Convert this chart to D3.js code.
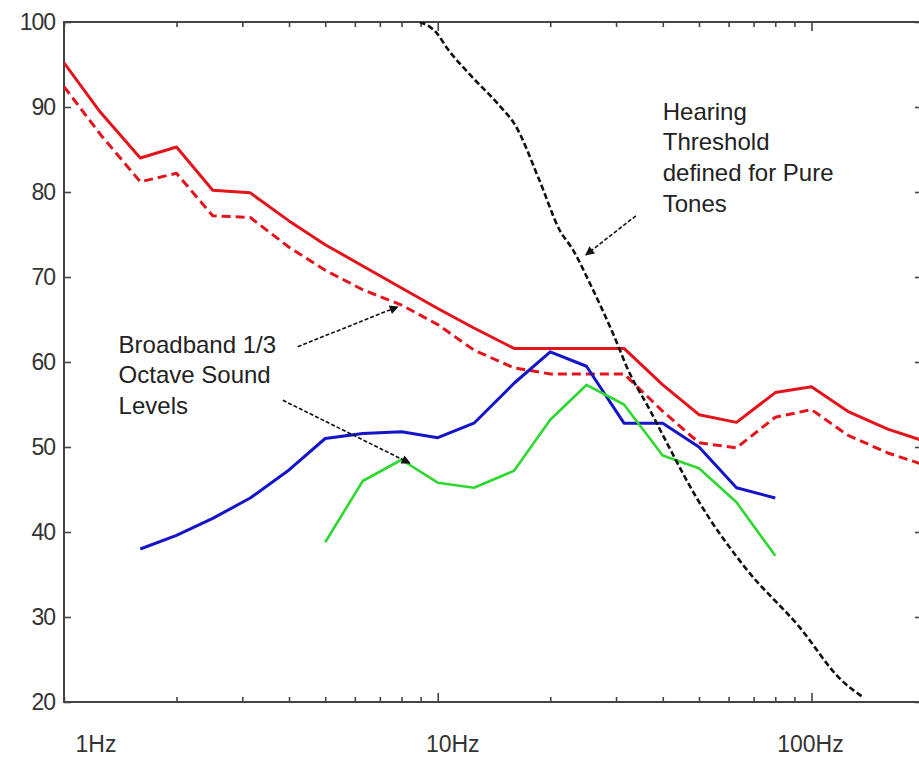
<!DOCTYPE html>
<html>
<head>
<meta charset="utf-8">
<script src="https://cdn.jsdelivr.net/npm/d3@7"></script>
<style>
  body { margin: 0; background: #fff; }
  text { font-family: "Liberation Sans", Arial, sans-serif; }
</style>
</head>
<body>
<div id="chart"></div>
<script>
// 1/3 octave centre frequencies (Hz)
var freqs = [1, 1.25, 1.6, 2, 2.5, 3.15, 4, 5, 6.3, 8, 10, 12.5, 16, 20, 25, 31.5, 40, 50, 63, 80, 100, 125, 160, 200];

// broadband levels, dB (red solid / red dashed)
var upperLevels = [95.2, 89.4, 84.0, 85.3, 80.2, 79.9, 76.6, 73.8, 71.3, 68.7, 66.3, 64.0, 61.6, 61.6, 61.6, 61.6, 57.3, 53.8, 52.9, 56.4, 57.1, 54.2, 52.1, 50.7];
var lowerLevels = [92.4, 86.8, 81.2, 82.2, 77.2, 77.0, 73.5, 70.8, 68.5, 66.7, 64.4, 61.4, 59.3, 58.6, 58.6, 58.6, 54.2, 50.5, 49.9, 53.5, 54.4, 51.4, 49.3, 47.9];

// blue series, 1.6 Hz .. 80 Hz
var blueFreqs = [1.6, 2, 2.5, 3.15, 4, 5, 6.3, 8, 10, 12.5, 16, 20, 25, 31.5, 40, 50, 63, 80];
var blueLevels = [38.0, 39.6, 41.6, 44.0, 47.3, 51.0, 51.6, 51.8, 51.1, 52.8, 57.5, 61.2, 59.5, 52.8, 52.8, 50.0, 45.2, 44.0];

// green series, 5 Hz .. 80 Hz
var greenFreqs = [5, 6.3, 8, 10, 12.5, 16, 20, 25, 31.5, 40, 50, 63, 80];
var greenLevels = [38.8, 46.0, 48.5, 45.8, 45.2, 47.2, 53.2, 57.3, 55.0, 49.0, 47.5, 43.5, 37.2];

// hearing threshold for pure tones
var thresholdFreqs = [8.95, 9.94, 10.6, 12.2, 14.6, 16.1, 18.7, 21.2, 23.0, 25.5, 29.4, 32.6, 36.9, 41.0, 49.3, 66.2, 92.9, 120, 137];
var thresholdLevels = [100, 98.7, 96.9, 93.8, 90.2, 87.9, 81.4, 75.5, 73.2, 69.3, 63.4, 58.7, 54.4, 50.5, 44.0, 35.9, 28.8, 22.6, 20.6];

// ticks
var yTicks = [20, 30, 40, 50, 60, 70, 80, 90, 100];
var xLabelValues = [1, 10, 100];
var xLabels = ["1Hz", "10Hz", "100Hz"];

// annotations (data coordinates: [Hz, dB])
var thresholdNote = ["Hearing", "Threshold", "defined for Pure", "Tones"];
var broadbandNote = ["Broadband 1/3", "Octave Sound", "Levels"];
var arrows = [
    { from: [4.22, 61.8], to: [7.82, 66.5] },
    { from: [3.85, 55.5], to: [8.42, 48.1] },
    { from: [33.9, 77.2], to: [24.9, 72.6] }
];

var width = 919,
    height = 760,
    plotLeft = 64,
    plotRight = 924,
    plotTop = 22,
    plotBottom = 702;

var x = d3.scaleLog().domain([1, 200]).range([plotLeft, plotRight]);
var y = d3.scaleLinear().domain([20, 100]).range([plotBottom, plotTop]);

var svg = d3.select("#chart").append("svg")
    .attr("width", width)
    .attr("height", height);

var defs = svg.append("defs");
defs.append("clipPath")
    .attr("id", "plot")
    .append("rect")
    .attr("x", plotLeft).attr("y", plotTop)
    .attr("width", plotRight - plotLeft).attr("height", plotBottom - plotTop);

defs.append("marker")
    .attr("id", "head")
    .attr("viewBox", "0 0 10 10")
    .attr("refX", 9).attr("refY", 5)
    .attr("markerWidth", 11).attr("markerHeight", 9)
    .attr("markerUnits", "userSpaceOnUse")
    .attr("orient", "auto")
    .append("path").attr("d", "M0,0L10,5L0,10Z").attr("fill", "#111");

// frame and ticks
var minor = x.ticks().filter(function(d) { return d <= 200; });

function axisStyle(g) {
    g.select(".domain").remove();
    g.selectAll(".tick line").attr("stroke", "#444").attr("stroke-width", 1.6);
    g.selectAll(".tick text").remove();
}

svg.append("g")
    .attr("transform", "translate(0," + plotBottom + ")")
    .call(d3.axisBottom(x).tickValues(minor).tickSize(-5))
    .call(axisStyle)
    .selectAll(".tick line")
    .attr("y2", function(d) { return xLabelValues.indexOf(d) > 0 ? -9 : -5; });

svg.append("g")
    .attr("transform", "translate(0," + plotTop + ")")
    .call(d3.axisTop(x).tickValues(minor).tickSize(-5))
    .call(axisStyle)
    .selectAll(".tick line")
    .attr("y2", function(d) { return xLabelValues.indexOf(d) > 0 ? 9 : 5; });

svg.append("g")
    .attr("transform", "translate(" + plotLeft + ",0)")
    .call(d3.axisLeft(y).tickValues(yTicks).tickSize(-7))
    .call(axisStyle);

svg.append("g")
    .attr("transform", "translate(" + plotRight + ",0)")
    .call(d3.axisRight(y).tickValues(yTicks).tickSize(-9))
    .call(axisStyle);

svg.append("rect")
    .attr("x", plotLeft).attr("y", plotTop)
    .attr("width", plotRight - plotLeft).attr("height", plotBottom - plotTop)
    .attr("fill", "none")
    .attr("stroke", "#444")
    .attr("stroke-width", 2);

// y labels
svg.append("g").selectAll("text")
    .data(yTicks)
    .enter().append("text")
    .attr("x", plotLeft - 9)
    .attr("y", function(d) { return y(d); })
    .attr("dy", "0.36em")
    .attr("text-anchor", "end")
    .attr("font-size", 23)
    .attr("letter-spacing", -1)
    .attr("fill", "#333")
    .text(function(d) { return d; });

// x labels (offset to the right like the original)
var xLabelShift = [32, 15, -1];
svg.append("g").selectAll("text")
    .data(xLabelValues)
    .enter().append("text")
    .attr("x", function(d, i) { return x(d) + xLabelShift[i]; })
    .attr("y", 752)
    .attr("text-anchor", "middle")
    .attr("font-size", 23)
    .attr("fill", "#333")
    .text(function(d, i) { return xLabels[i]; });

// series
var series = [
    { f: freqs, v: lowerLevels, color: "#e3141b", w: 3, dash: "9,5", curve: d3.curveLinear },
    { f: freqs, v: upperLevels, color: "#e3141b", w: 3, dash: null, curve: d3.curveLinear },
    { f: blueFreqs, v: blueLevels, color: "#1414c8", w: 3, dash: null, curve: d3.curveLinear },
    { f: greenFreqs, v: greenLevels, color: "#2ed82e", w: 2.6, dash: null, curve: d3.curveLinear },
    { f: thresholdFreqs, v: thresholdLevels, color: "#111", w: 2.6, dash: "6,3", curve: d3.curveMonotoneX }
];

var plot = svg.append("g").attr("clip-path", "url(#plot)");

plot.selectAll("path.series")
    .data(series)
    .enter().append("path")
    .attr("class", "series")
    .attr("fill", "none")
    .attr("stroke", function(d) { return d.color; })
    .attr("stroke-width", function(d) { return d.w; })
    .attr("stroke-dasharray", function(d) { return d.dash; })
    .attr("stroke-linejoin", "round")
    .attr("d", function(d) {
        return d3.line()
            .x(function(p) { return x(p[0]); })
            .y(function(p) { return y(p[1]); })
            .curve(d.curve)(d.f.map(function(f, i) { return [f, d.v[i]]; }));
    });

// annotation arrows
svg.append("g").selectAll("line")
    .data(arrows)
    .enter().append("line")
    .attr("x1", function(d) { return x(d.from[0]); })
    .attr("y1", function(d) { return y(d.from[1]); })
    .attr("x2", function(d) { return x(d.to[0]); })
    .attr("y2", function(d) { return y(d.to[1]); })
    .attr("stroke", "#111")
    .attr("stroke-width", 1.6)
    .attr("stroke-dasharray", "4,2")
    .attr("marker-end", "url(#head)");

function note(lines, f, v) {
    var t = svg.append("text")
        .attr("x", x(f))
        .attr("y", y(v))
        .attr("font-size", 24)
        .attr("fill", "#222");
    t.selectAll("tspan")
        .data(lines)
        .enter().append("tspan")
        .attr("x", x(f))
        .attr("dy", function(d, i) { return i ? 30.7 : 0; })
        .text(function(d) { return d; });
}

note(thresholdNote, 40, 88.5);
note(broadbandNote, 1.4, 61.1);
</script>
</body>
</html>
